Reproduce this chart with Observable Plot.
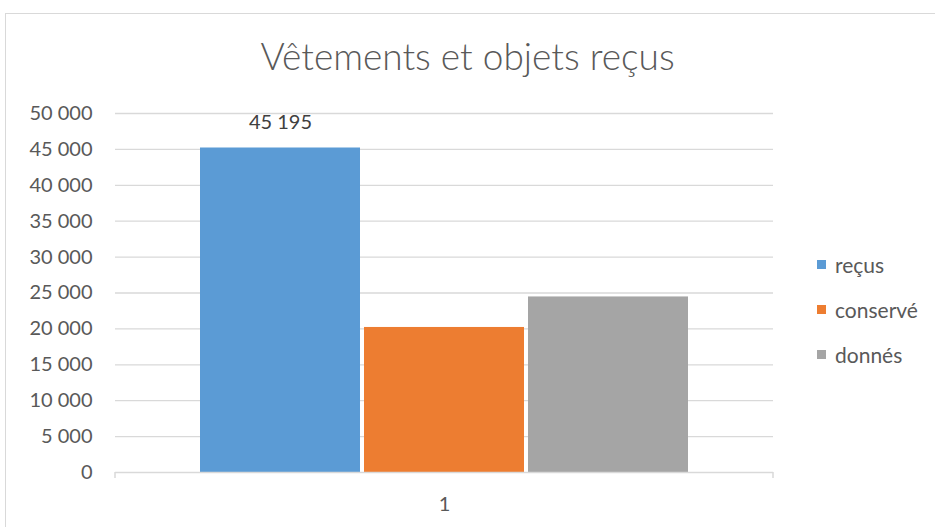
<!DOCTYPE html>
<html>
<head>
<meta charset="utf-8">
<script src="https://cdn.jsdelivr.net/npm/d3@7"></script>
<script src="https://cdn.jsdelivr.net/npm/@observablehq/plot@0.6"></script>
<style>
  html, body { margin: 0; padding: 0; background: #fff; }
  #wrap { position: relative; width: 935px; height: 527px; overflow: hidden; font-family: Lato, "Open Sans", sans-serif; color: #595959; }
  #border { position: absolute; left: 5px; top: 13px; width: 960px; height: 560px; border: 1.5px solid #d9d9d9; box-sizing: border-box; }
  #title { position: absolute; left: 0; top: 33px; width: 935px; text-align: center; font-size: 37px; line-height: 46px; font-weight: 300; color: #595959; }
  #chart { position: absolute; left: 0; top: 0; }
  #legend { position: absolute; left: 817px; top: 242px; }
  .item { display: flex; align-items: center; height: 45px; font-size: 21px; color: #595959; }
  .sw { width: 9px; height: 9px; margin-right: 9px; }
</style>
</head>
<body>
<div id="wrap">
  <div id="border"></div>
  <div id="chart"></div>
  <div id="title"></div>
  <div id="legend"></div>
</div>
<script>
const titleText = "Vêtements et objets reçus";
const categories = ["1"];
const series = ["reçus", "conservé", "donnés"];
const values = [45195, 20200, 24450];
const colors = ["#5B9BD5", "#ED7D31", "#A5A5A5"];
const yTicks = [0, 5000, 10000, 15000, 20000, 25000, 30000, 35000, 40000, 45000, 50000];
const labelledSeries = ["reçus"];

const locale = d3.formatLocale({decimal: ",", thousands: "\u00a0", grouping: [3], currency: ["", " €"]});
const fmt = locale.format(",d");

const rows = series.map((s, i) => ({series: s, value: values[i], category: categories[0]}));

document.getElementById("title").textContent = titleText;

const endTicks = (index, scales, values, dim) => {
  const g = d3.create("svg:g");
  const y0 = scales.y(0);
  [dim.marginLeft, dim.width - dim.marginRight].forEach(x => {
    g.append("line").attr("x1", x).attr("x2", x).attr("y1", y0).attr("y2", y0 + 6)
      .attr("stroke", "#d9d9d9").attr("stroke-width", 1.5);
  });
  return g.node();
};

const chart = Plot.plot({
  width: 935,
  height: 527,
  marginLeft: 115,
  marginRight: 162,
  marginTop: 113,
  marginBottom: 55,
  style: {fontFamily: "Lato, 'Open Sans', sans-serif", fontSize: "20px", color: "#595959", background: "transparent"},
  x: {domain: series, paddingInner: 0, paddingOuter: 0.5, axis: null},
  y: {domain: [0, 50000], ticks: yTicks, tickFormat: fmt, tickSize: 0, tickPadding: 23, label: null},
  color: {domain: series, range: colors},
  marks: [
    Plot.ruleY(yTicks.filter(t => t > 0), {stroke: "#d9d9d9", strokeWidth: 1.3}),
    Plot.barY(rows, {x: "series", y: "value", fill: "series", insetLeft: 2, insetRight: 2}),
    Plot.ruleY([0], {stroke: "#d9d9d9", strokeWidth: 1.5}),
    endTicks,
    Plot.text(rows.filter(d => labelledSeries.includes(d.series)), {x: "series", y: "value", text: d => fmt(d.value), lineAnchor: "bottom", dy: -19, fill: "#404040", fontSize: 20}),
    Plot.text(categories, {frameAnchor: "bottom", text: d => d, dy: 38, fill: "#595959", fontSize: 20})
  ]
});
document.getElementById("chart").appendChild(chart);

const legend = d3.select("#legend");
series.forEach((s, i) => {
  const it = legend.append("div").attr("class", "item");
  it.append("div").attr("class", "sw").style("background", colors[i]);
  it.append("span").text(s);
});
</script>
</body>
</html>
